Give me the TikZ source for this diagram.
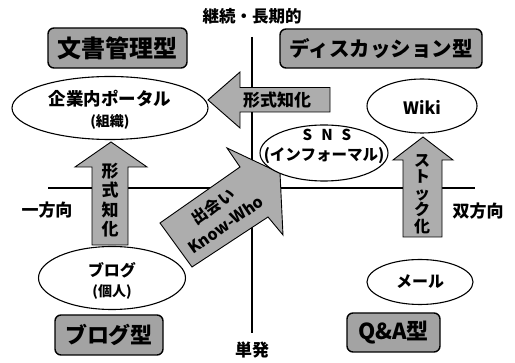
\documentclass[tikz,border=0pt]{standalone}
\usepackage{fontspec}
\setmainfont{Noto Sans CJK JP}
\usetikzlibrary{shapes.geometric}
\definecolor{boxgray}{gray}{0.64}
\definecolor{arrowgray}{gray}{0.68}
\begin{document}
\begin{tikzpicture}[x=1pt,y=-1pt,
  lbl/.style={font=\bfseries\fontsize{17}{19}\selectfont, inner sep=0},
  sml/.style={font=\bfseries\fontsize{14}{16}\selectfont, inner sep=0},
  typebox/.style={draw, line width=1.4pt, rounded corners=6pt, fill=boxgray, inner sep=0},
  oval/.style={draw, ellipse, line width=1.1pt, fill=white, inner sep=0},
  bigarrow/.style={draw, line width=0.9pt, fill=arrowgray, line join=miter},
  arrowtxt/.style={font=\bfseries\fontsize{17}{19.5}\selectfont, inner sep=0, align=center},
  axisline/.style={line width=1.3pt}]
\useasboundingbox (0,0) rectangle (515,363);
% axes
\coordinate (vtop) at (252,37);
\coordinate (vbot) at (252,333);
\coordinate (hleft) at (48,188);
\coordinate (hright) at (475,188);
\draw[axisline] (vtop) -- (vbot);
\draw[axisline] (hleft) -- (hright);
\node[lbl, font=\bfseries\fontsize{16.5}{18}\selectfont] (top) at (252,16) {継続・長期的};
\node[lbl] (bottom) at (252,350) {単発};
\node[lbl] (left) at (47,210) {一方向};
\node[lbl] (right) at (478,211) {双方向};
% type boxes
\node[typebox, minimum width=139pt, minimum height=40pt] (bunsho) at (117.5,48)
  {\fontsize{24}{26}\selectfont\bfseries 文書管理型};
\node[typebox, minimum width=202pt, minimum height=39pt] (disc) at (381,48.5)
  {\fontsize{20.5}{22}\selectfont\bfseries ディスカッション型};
\node[typebox, minimum width=108pt, minimum height=40pt] (blogt) at (109,335)
  {\fontsize{22}{24}\selectfont\bfseries ブログ型};
\node[typebox, minimum width=93pt, minimum height=39pt] (qa) at (393.5,332.5)
  {\fontsize{22}{24}\selectfont\bfseries Q\&A型};
% arrows
\draw[bigarrow] (111,142) -- (147,167) -- (128,167) -- (128,245) -- (92,245) -- (92,167) -- (75,167) -- cycle;
\draw[bigarrow] (208,100) -- (240,72) -- (240,87.5) -- (330,87.5) -- (330,112) -- (240,112) -- (240,128) -- cycle;
\draw[bigarrow] (423,137) -- (453,160) -- (442,160) -- (442,237) -- (403,237) -- (403,160) -- (393,160) -- cycle;
\draw[bigarrow] (160,223) -- (240,167) -- (227,148) -- (280,173) -- (283,235) -- (268,217) -- (192,267) -- cycle;
\node[arrowtxt] (keishiki1) at (110,200) {形\\式\\知\\化};
\node[arrowtxt] (keishiki2) at (277,100) {形式知化};
\node[arrowtxt, font=\bfseries\fontsize{16}{16.5}\selectfont] (stock) at (422,194) {ス\\ト\\ッ\\ク\\化};
\node[arrowtxt, font=\bfseries\fontsize{16}{22}\selectfont, rotate=35] (knowwho) at (219,215) {出会い\\Know-Who};
% ellipses
\node[oval, minimum width=196pt, minimum height=63pt] (portal) at (110,108) {};
\node[lbl, font=\bfseries\fontsize{17.5}{19}\selectfont] (portalT) at (110,99) {企業内ポータル};
\node[sml] (portalS) at (110,122) {(組織)};
\node[oval, minimum width=110pt, minimum height=54pt] (wiki) at (422,106) {};
\node[lbl] (wikiT) at (422,107) {Wiki};
\node[oval, minimum width=128pt, minimum height=56pt] (sns) at (324,153) {};
\node[lbl, font=\bfseries\fontsize{15}{17}\selectfont] (snsT) at (327,135) {S\hspace{9pt}N\hspace{9pt}S};
\node[sml, font=\bfseries\fontsize{15.5}{17}\selectfont] (snsS) at (324,156) {(インフォーマル)};
\node[oval, minimum width=147pt, minimum height=63pt] (blog) at (112,278) {};
\node[lbl, font=\bfseries\fontsize{16}{18}\selectfont] (blogT) at (112,270) {ブログ};
\node[sml] (blogS) at (112,292) {(個人)};
\node[oval, minimum width=106pt, minimum height=45pt] (mail) at (420,282) {};
\node[lbl, font=\bfseries\fontsize{16}{18}\selectfont] (mailT) at (420,282) {メール};
\end{tikzpicture}
\end{document}
